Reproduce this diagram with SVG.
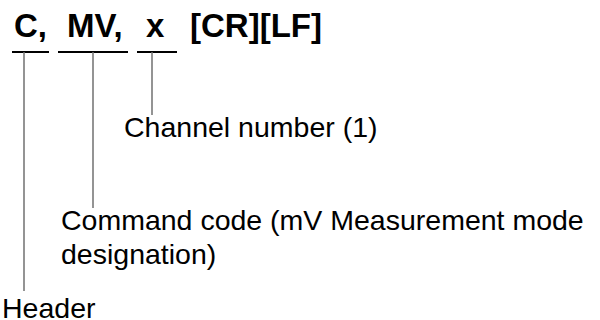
<svg xmlns="http://www.w3.org/2000/svg" width="600" height="320" viewBox="0 0 600 320">
<style>
.t{font-family:"Liberation Sans",Arial,sans-serif;font-weight:bold;font-size:33px;fill:#000}
.l{font-family:"Liberation Sans",Arial,sans-serif;font-size:28.5px;fill:#000}
.u{stroke:#000;stroke-width:2;fill:none}
.v{stroke:#707070;stroke-width:1.5;fill:none}
</style>
<rect width="600" height="320" fill="#fff"/>
<g id="title">
<text class="t" x="14" y="37">C,</text>
<text class="t" x="67" y="37">MV,</text>
<text class="t" x="146" y="37">x</text>
<text class="t" x="190" y="37">[CR][LF]</text>
</g>
<g id="connectors">
<line class="u" x1="12" y1="52" x2="49" y2="52"/>
<line class="u" x1="58" y1="52" x2="128" y2="52"/>
<line class="u" x1="137" y1="52" x2="177" y2="52"/>
<line class="v" x1="24" y1="52" x2="24" y2="291"/>
<line class="v" x1="93" y1="52" x2="93" y2="208"/>
<line class="v" x1="152" y1="52" x2="152" y2="115"/>
</g>
<g id="channel"><text class="l" x="124" y="137">Channel number (1)</text></g>
<g id="command"><text class="l" x="61" y="230">Command code (mV Measurement mode</text><text class="l" x="61" y="264">designation)</text></g>
<g id="header"><text class="l" x="2" y="318">Header</text></g>
</svg>
